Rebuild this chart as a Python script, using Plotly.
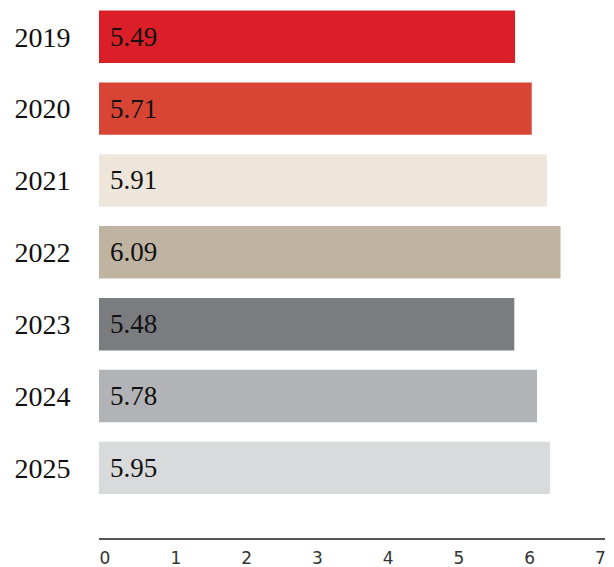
import plotly.graph_objects as go

years = ["2019", "2020", "2021", "2022", "2023", "2024", "2025"]
values = [5.49, 5.71, 5.91, 6.09, 5.48, 5.78, 5.95]
colors = ["#DA1F28", "#D94535", "#EEE6DB", "#BFB3A2", "#7B7C80", "#B2B3B6", "#D9DADC"]
axis_ticks = [0, 1, 2, 3, 4, 5, 6, 7]

serif = "Liberation Serif, Times New Roman, serif"

fig = go.Figure()
fig.add_trace(go.Bar(
    x=values, y=years, orientation="h",
    marker=dict(color=colors, line=dict(width=0)),
    width=0.73, hoverinfo="x+y", showlegend=False,
))
# empty trace to attach the labelled axis
fig.add_trace(go.Scatter(x=[], y=[], xaxis="x2", yaxis="y", showlegend=False, hoverinfo="skip"))

for i, v in enumerate(values):
    fig.add_annotation(x=0, y=i, xref="x", yref="y", text=f"{v:.2f}",
                       showarrow=False, xanchor="left", yanchor="middle", xshift=9,
                       font=dict(family=serif, size=27, color="#111111"))

fig.update_layout(
    width=614, height=567,
    margin=dict(l=99, r=9, t=0, b=29),
    paper_bgcolor="white", plot_bgcolor="white",
    xaxis=dict(range=[0, 6.677], visible=False, fixedrange=True),
    xaxis2=dict(overlaying="x", anchor="y", side="bottom",
                range=[-0.085, 7.064], tickvals=axis_ticks,
                showgrid=False, zeroline=False,
                showline=True, linecolor="#555555", linewidth=1.5,
                ticks="outside", ticklen=4, tickcolor="rgba(0,0,0,0)",
                tickfont=dict(family="DejaVu Sans, sans-serif", size=17, color="#333333")),
    yaxis=dict(type="category", categoryarray=years, categoryorder="array",
               range=[6.976, -0.512], showgrid=False, zeroline=False, showline=False,
               ticks="outside", ticklen=22, tickcolor="rgba(0,0,0,0)",
               tickfont=dict(family=serif, size=28, color="#111111")),
)

fig.write_html("out.html")
